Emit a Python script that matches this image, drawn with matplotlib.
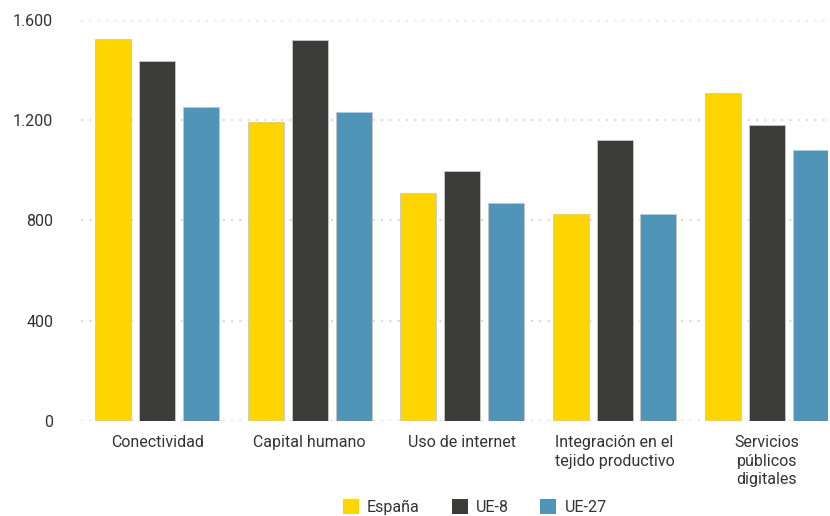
import matplotlib
matplotlib.use("Agg")
import matplotlib.pyplot as plt
import numpy as np
from matplotlib.patches import Patch

plt.rcParams['font.family'] = ['Roboto', 'DejaVu Sans']

categorias = ["Conectividad", "Capital humano", "Uso de internet",
              "Integración en el\ntejido productivo", "Servicios\npúblicos\ndigitales"]
espana = [1521, 1190, 908, 824, 1308]
ue8 = [1436, 1520, 996, 1119, 1178]
ue27 = [1252, 1231, 869, 824, 1080]
series = ["España", "UE-8", "UE-27"]
colores = ["#FFD500", "#3C3C3B", "#5095B7"]
yticks = [0, 400, 800, 1200, 1600]
ytick_labels = ["0", "400", "800", "1.200", "1.600"]

fig = plt.figure(figsize=(8.3, 5.16), dpi=100)
ax = fig.add_axes([0.0976, 0.184, 0.9, 0.778])

x = np.arange(len(categorias))
w = 0.236
off = 0.288
for i, (vals, col) in enumerate(zip([espana, ue8, ue27], colores)):
    ax.bar(x + (i - 1) * off, vals, width=w, color=col,
           edgecolor="#c8c8c8", linewidth=0.6, zorder=3)

ax.set_ylim(0, 1600)
ax.set_xlim(-0.5, 4.4)
ax.set_yticks(yticks)
ax.set_yticklabels(ytick_labels)
ax.set_xticks(x)
ax.set_xticklabels(categorias, linespacing=1.3)
ax.tick_params(axis='y', length=0, pad=20, labelsize=11.5, labelcolor="#333333")
ax.tick_params(axis='x', length=0, pad=10, labelsize=11.5, labelcolor="#333333")
ax.grid(axis='y', color="#d9d9d9", linestyle=(0, (1, 3)), linewidth=1.5, zorder=0)
for s in ax.spines.values():
    s.set_visible(False)

handles = [Patch(facecolor=c, edgecolor='none') for c in colores]
fig.legend(handles, series, loc='center', bbox_to_anchor=(0.572, 0.017),
           ncol=3, frameon=False, fontsize=11.5, handlelength=1.0, handleheight=1.0,
           columnspacing=2.0, handletextpad=0.5, labelcolor="#333333")

fig.savefig("out.png", dpi=100)
